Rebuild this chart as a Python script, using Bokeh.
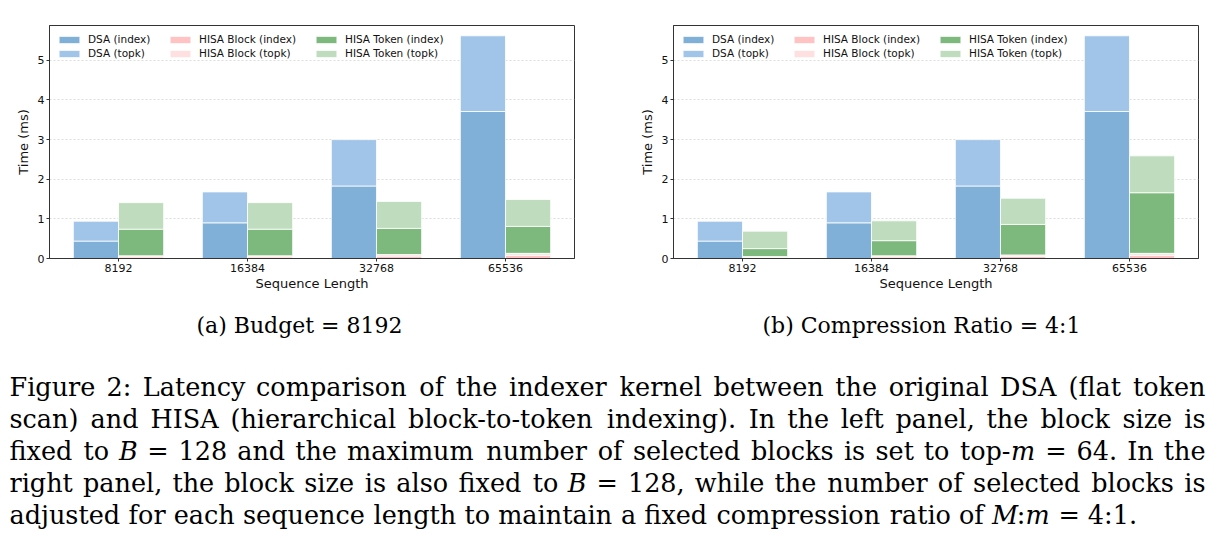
import numpy as np
from bokeh.plotting import figure
from bokeh.models import ColumnDataSource, Range1d, FixedTicker, Legend, LegendItem
from bokeh.layouts import column, row
from bokeh.embed import file_html
from bokeh.resources import INLINE
from bokeh.core.properties import value, field

# ---------------- data ----------------
seq_lens = ["8192", "16384", "32768", "65536"]
y_ticks = [0, 1, 2, 3, 4, 5]

# (a) Budget = 8192
dsa_index_a = [0.44, 0.90, 1.83, 3.71]
dsa_topk_a = [0.50, 0.78, 1.17, 1.91]
block_index_a = [0.04, 0.04, 0.06, 0.08]
block_topk_a = [0.03, 0.03, 0.04, 0.05]
token_index_a = [0.67, 0.67, 0.66, 0.68]
token_topk_a = [0.67, 0.67, 0.68, 0.68]

# (b) Compression Ratio = 4:1
dsa_index_b = [0.44, 0.90, 1.83, 3.71]
dsa_topk_b = [0.50, 0.78, 1.17, 1.91]
block_index_b = [0.03, 0.04, 0.05, 0.08]
block_topk_b = [0.02, 0.03, 0.04, 0.05]
token_index_b = [0.20, 0.38, 0.77, 1.53]
token_topk_b = [0.44, 0.50, 0.66, 0.93]

series_names = ["DSA (index)", "DSA (topk)", "HISA Block (index)",
                "HISA Block (topk)", "HISA Token (index)", "HISA Token (topk)"]
series_colors = ["#80b0d8", "#a1c5e9", "#ffc3c3", "#ffe0e1", "#7db97c", "#bfdcbe"]

subcaptions = ["(a) Budget = 8192", "(b) Compression Ratio = 4:1"]
caption_lines = [
    "Figure 2: Latency comparison of the indexer kernel between the original DSA (flat token",
    "scan) and HISA (hierarchical block-to-token indexing). In the left panel, the block size is",
    "fixed to $B$ = 128 and the maximum number of selected blocks is set to top-$m$ = 64. In the",
    "right panel, the block size is also fixed to $B$ = 128, while the number of selected blocks is",
    "adjusted for each sequence length to maintain a fixed compression ratio of $M$:$m$ = 4:1.",
]
caption_justify = [True, True, True, True, False]

SANS = "DejaVu Sans"
SERIF = "DejaVu Serif"
AX = "#333333"


def make_panel(dsa_idx, dsa_tk, blk_idx, blk_tk, tok_idx, tok_tk, border_left, border_right):
    p = figure(width=610, height=300, output_backend="svg", toolbar_location=None,
               title=None,
               x_range=Range1d(-0.535, 3.535), y_range=Range1d(0, 5.88),
               min_border_left=border_left, min_border_right=border_right,
               min_border_top=25, min_border_bottom=42)
    x = np.arange(len(seq_lens), dtype=float)
    w = 0.35
    groups = [(-w / 2, [dsa_idx, dsa_tk], series_colors[:2]),
              (w / 2, [blk_idx, blk_tk, tok_idx, tok_tk], series_colors[2:])]
    renderers = []
    for off, stack, cols in groups:
        bottom = np.zeros(len(x))
        for vals, c in zip(stack, cols):
            vals = np.asarray(vals, dtype=float)
            src = ColumnDataSource(dict(x=x + off, bottom=bottom, top=bottom + vals))
            r = p.vbar(x="x", width=w, bottom="bottom", top="top", source=src,
                       fill_color=c, line_color="white", line_width=0.8)
            renderers.append(r)
            bottom = bottom + vals

    # legends: three columns of two rows each
    col_offsets = [7, 118, 264]
    for ci, xo in enumerate(col_offsets):
        items = [LegendItem(label=series_names[2 * ci + k], renderers=[renderers[2 * ci + k]])
                 for k in range(2)]
        leg = Legend(items=items, location=(xo, 199), orientation="vertical",
                     padding=0, margin=0, spacing=2, border_line_color=None,
                     background_fill_alpha=0, glyph_width=26, glyph_height=9,
                     label_height=9, label_standoff=6,
                     label_text_font=SANS, label_text_font_size="10.5px",
                     label_text_color="#111111")
        p.add_layout(leg, "center")

    p.xaxis.ticker = FixedTicker(ticks=list(range(len(seq_lens))))
    p.xaxis.major_label_overrides = {i: s for i, s in enumerate(seq_lens)}
    p.yaxis.ticker = FixedTicker(ticks=y_ticks)
    p.xaxis.axis_label = "Sequence Length"
    p.yaxis.axis_label = "Time (ms)"
    for ax in (p.xaxis, p.yaxis):
        ax.axis_label_text_font = SANS
        ax.axis_label_text_font_size = "13px"
        ax.axis_label_text_font_style = "normal"
        ax.axis_label_text_color = "#111111"
        ax.major_label_text_font = SANS
        ax.major_label_text_font_size = "11px"
        ax.major_label_text_color = "#111111"
        ax.axis_line_color = AX
        ax.major_tick_line_color = AX
        ax.minor_tick_line_color = None
        ax.major_tick_in = 0
        ax.major_tick_out = 3
        ax.major_label_standoff = 2
    p.xaxis.axis_label_standoff = 1
    p.yaxis.axis_label_standoff = 4
    p.xgrid.visible = False
    p.ygrid.grid_line_color = "#d4d4d4"
    p.ygrid.grid_line_dash = "2 2"
    p.ygrid.grid_line_width = 0.8
    p.outline_line_color = AX
    p.outline_line_alpha = 1.0
    p.background_fill_color = "white"
    return p


p1 = make_panel(dsa_index_a, dsa_topk_a, block_index_a, block_topk_a,
                token_index_a, token_topk_a, 49, 36)
p2 = make_panel(dsa_index_b, dsa_topk_b, block_index_b, block_topk_b,
                token_index_b, token_topk_b, 63, 22)

# ---------------- caption ----------------
CW = {" ": 651, "(": 799, ")": 799, ",": 651, "-": 739, ".": 651, ":": 690, "=": 1716,
      "A": 1479, "B": 1470, "C": 1493, "D": 1624, "F": 1376, "H": 1776, "I": 821,
      "M": 2005, "S": 1413, "R": 1520,
      "a": 1221, "b": 1313, "c": 1147, "d": 1313, "e": 1214, "f": 760, "g": 1313,
      "h": 1327, "i": 655, "j": 627, "k": 1272, "l": 655, "m": 1993, "n": 1327,
      "o": 1233, "p": 1313, "q": 1313, "r": 981, "s": 1081, "t": 819, "u": 1327,
      "v": 1188, "w": 1745, "x": 1206, "y": 1188, "z": 1104}
for dgt in "0123456789":
    CW[dgt] = 1303

CAP_SIZE = 25.5
CAP_L, CAP_R = 9, 1205
CAP_BASE, CAP_LEAD = 86, 32
SUB_BASE = 25


def tw(s):
    return sum(CW.get(ch, 1250) for ch in s) / 2048.0 * CAP_SIZE


def parse(word):
    parts = word.split("$")
    return [(t, i % 2 == 1) for i, t in enumerate(parts) if t]


cap_rows = dict(x=[], y=[], text=[], align=[], style=[])


def put(xv, yv, t, al, st):
    cap_rows["x"].append(xv)
    cap_rows["y"].append(yv)
    cap_rows["text"].append(t)
    cap_rows["align"].append(al)
    cap_rows["style"].append(st)


for li, (line, just) in enumerate(zip(caption_lines, caption_justify)):
    words = line.split(" ")
    segs = [parse(wd) for wd in words]
    widths = [sum(tw(t) for t, _ in s) for s in segs]
    n = len(words)
    gap = (CAP_R - CAP_L - sum(widths)) / (n - 1) if just else tw(" ")
    yb = CAP_BASE + li * CAP_LEAD
    half = n // 2 if just else n
    for i in range(n):
        if i < half:
            xl = CAP_L + sum(widths[:i]) + i * gap
            for t, it in segs[i]:
                put(xl, yb, t, "left", "italic" if it else "normal")
                xl += tw(t)
        else:
            xr = CAP_R - sum(widths[i + 1:]) - (n - 1 - i) * gap
            for t, it in reversed(segs[i]):
                put(xr, yb, t, "right", "italic" if it else "normal")
                xr -= tw(t)

cap = figure(width=1220, height=252, output_backend="svg", toolbar_location=None,
             title=None,
             x_range=Range1d(0, 1220), y_range=Range1d(252, 0),
             x_axis_type=None, y_axis_type=None, min_border=0)
cap.grid.visible = False
cap.outline_line_color = None
cap.text(x="x", y="y", text="text", source=ColumnDataSource(cap_rows),
         text_align=field("align"), text_font_style=field("style"),
         text_baseline="alphabetic", text_font=value(SERIF),
         text_font_size=value(f"{CAP_SIZE}px"), text_color="black")
sub_src = ColumnDataSource(dict(x=[299, 921], y=[SUB_BASE, SUB_BASE], text=subcaptions))
cap.text(x="x", y="y", text="text", source=sub_src, text_align="center",
         text_baseline="alphabetic", text_font=value(SERIF),
         text_font_size=value("22px"), text_color="black")

layout = column(row(p1, p2, spacing=0), cap, spacing=0)
open("out.html", "w").write(file_html(layout, INLINE))
